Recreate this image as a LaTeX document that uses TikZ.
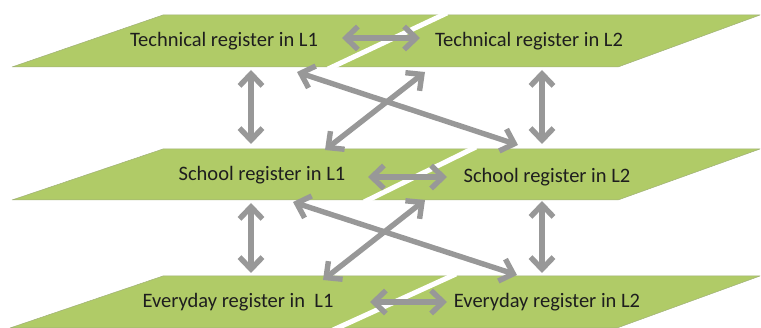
\documentclass[tikz,border=0pt]{standalone}
\usepackage{fontspec}
\setmainfont{Carlito}
\usetikzlibrary{arrows.meta}
\definecolor{leaf}{RGB}{176,203,103}
\definecolor{rim}{RGB}{160,176,120}
\definecolor{link}{RGB}{152,152,152}
\definecolor{ink}{RGB}{30,30,30}
\begin{document}
\begin{tikzpicture}[x=1pt,y=-1pt,
  plane/.style={fill=leaf, draw=rim, line width=0.5pt, line join=round},
  seam/.style={draw=white, line width=5pt},
  label/.style={anchor=base, inner sep=0pt, text=ink,
    font=\fontsize{20.5}{24}\selectfont},
  link/.style={draw=link, line width=5.4pt,
    {Straight Barb[length=12pt,width=23pt]}-{Straight Barb[length=12pt,width=23pt]}}]
\useasboundingbox (0,0) rectangle (761,328);

% ---- planes: left (L1) and right (L2) of each register, split by a white seam
% technical
\path[plane] (12,67) -- (163,15) -- (445,15) -- (330,67) -- cycle;
\path[plane] (445,15) -- (760,15) -- (618,67) -- (330,67) -- cycle;
\draw[seam] (447,13) -- (328,69);
% school
\path[plane] (12,200) -- (163,149) -- (474,149) -- (366,200) -- cycle;
\path[plane] (474,149) -- (760,149) -- (618,200) -- (366,200) -- cycle;
\draw[seam] (476,147) -- (364,202);
% everyday
\path[plane] (10,328) -- (163,276) -- (454,276) -- (335,328) -- cycle;
\path[plane] (454,276) -- (760,276) -- (617,328) -- (335,328) -- cycle;
\draw[seam] (456,274) -- (333,330);

% ---- labels
\node[label] (tl1) at (224,47) {Technical register in L1};
\node[label] (tl2) at (529,47) {Technical register in L2};
\node[label] (sc1) at (262,181) {School register in L1};
\node[label] (sc2) at (547,183) {School register in L2};
\node[label] (ev1) at (238,308) {Everyday register in\ \ L1};
\node[label] (ev2) at (547,308) {Everyday register in L2};

% ---- connector ends on the plane edges
\coordinate (tl1-e) at (342,38);  \coordinate (tl2-w) at (420,38);
\coordinate (sc1-e) at (368,177); \coordinate (sc2-w) at (447,177);
\coordinate (ev1-e) at (370,302); \coordinate (ev2-w) at (447,302);

\coordinate (tl1-s) at (251,70);  \coordinate (sc1-n) at (251,144);
\coordinate (tl2-s) at (542,70);  \coordinate (sc2-n) at (542,144);
\coordinate (sc1-s) at (251,203); \coordinate (ev1-n) at (251,273);
\coordinate (sc2-s) at (542,201); \coordinate (ev2-n) at (542,273);

\coordinate (tl1-se) at (297,72); \coordinate (sc2-nw) at (518,145);
\coordinate (tl2-sw) at (425,72); \coordinate (sc1-ne) at (325,150);
\coordinate (sc1-se) at (293,202); \coordinate (ev2-nw) at (517,275);
\coordinate (sc2-sw) at (425,200); \coordinate (ev1-ne) at (323,280);

% ---- links between registers
\draw[link] (tl1-e) -- (tl2-w);
\draw[link] (sc1-e) -- (sc2-w);
\draw[link] (ev1-e) -- (ev2-w);

\draw[link] (tl1-s) -- (sc1-n);
\draw[link] (tl2-s) -- (sc2-n);
\draw[link] (sc1-s) -- (ev1-n);
\draw[link] (sc2-s) -- (ev2-n);

\draw[link] (tl1-se) -- (sc2-nw);
\draw[link] (tl2-sw) -- (sc1-ne);
\draw[link] (sc1-se) -- (ev2-nw);
\draw[link] (sc2-sw) -- (ev1-ne);
\end{tikzpicture}
\end{document}
